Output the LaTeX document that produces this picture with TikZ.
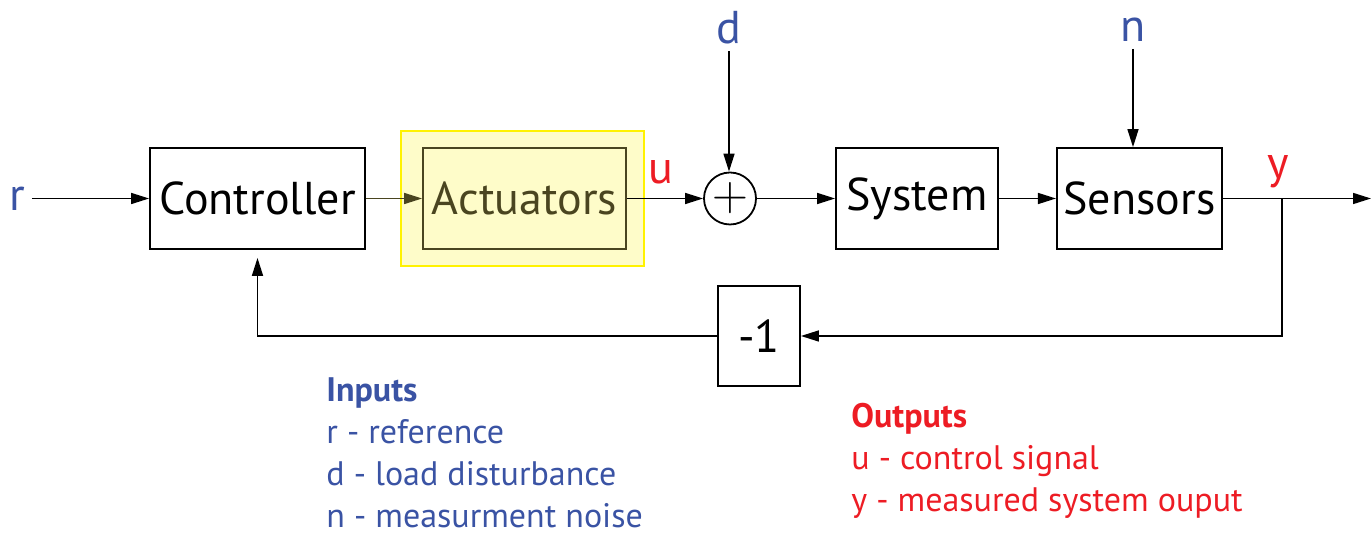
\documentclass[tikz,border=0pt]{standalone}
\usepackage{fontspec}
\setmainfont{PT Sans}
\usetikzlibrary{positioning,arrows.meta}
\definecolor{sigblue}{HTML}{3A53A4}
\definecolor{sigred}{HTML}{ED1C24}
\definecolor{hlyellow}{HTML}{FFF200}
\definecolor{hlfill}{HTML}{FEFCC9}
\definecolor{actolive}{HTML}{4A4520}

\begin{document}
\begin{tikzpicture}[x=0.5pt, y=-0.5pt,
    blk/.style={draw, line width=0.9pt, minimum height=50.5pt, font=\fontsize{23}{27}\selectfont},
    sig/.style={font=\fontsize{23}{27}\selectfont},
    leg/.style={anchor=north west, inner sep=0pt, align=left, font=\fontsize{17}{21}\selectfont},
    arr/.style={-{Triangle[length=9pt, width=5.5pt]}, line width=0.75pt}]
  \useasboundingbox (0,0) rectangle (1372,533);
  \node[blk, minimum width=107.5pt] (ctrl) at (257.5,198.5) {Controller};
  \node[draw=hlyellow, line width=1.3pt, fill=hlfill, minimum width=121.5pt, minimum height=67.5pt] (hl) at (522.5,198.5) {};
  \node[blk, draw=actolive, text=actolive, minimum width=101.5pt] (act) at (524.5,198.5) {Actuators};
  \node[circle, draw, line width=0.9pt, minimum size=26pt, inner sep=0pt, font=\fontsize{26}{26}\selectfont] (sum) at (730,198.5) {$+$};
  \node[blk, minimum width=81pt] (sys) at (917,198.5) {System};
  \node[blk, minimum width=82.5pt] (sens) at (1139.5,198.5) {Sensors};
  \node[blk, minimum width=41pt, minimum height=50pt] (neg) at (759,336) {-1};
  % signals
  \node[sig, text=sigblue] (r) at (17,198.5) {r};
  \node[sig, text=sigblue] (d) at (729,28) {d};
  \node[sig, text=sigblue] (n) at (1133,30) {n};
  \node[sig, text=sigred] (u) at (661,172) {u};
  \node[sig, text=sigred] (y) at (1278,172) {y};
  \coordinate (out) at (1371,198.5);
  \coordinate (br) at (1282,198.5);
  \draw[arr] (r) -- (ctrl); \draw[arr, actolive] (ctrl) -- (act); \draw[arr] (act) -- (sum);
  \draw[arr] (d) -- (d |- sum.north); \draw[arr] (sum) -- (sys); \draw[arr] (sys) -- (sens);
  \draw[arr] (n) -- (n |- sens.north); \draw[arr] (sens) -- (out);
  \draw[arr] (br) |- (neg);
  \draw[arr, shorten >=4pt] (neg) -| (ctrl);
  % legend
  \node[leg, text=sigblue] (inp) at (326,377) {\textbf{Inputs}\\r - reference\\d - load disturbance\\n - measurment noise};
  \node[leg, text=sigred] (outp) at (851,403) {\textbf{Outputs}\\u - control signal\\y - measured system ouput};
\end{tikzpicture}
\end{document}
